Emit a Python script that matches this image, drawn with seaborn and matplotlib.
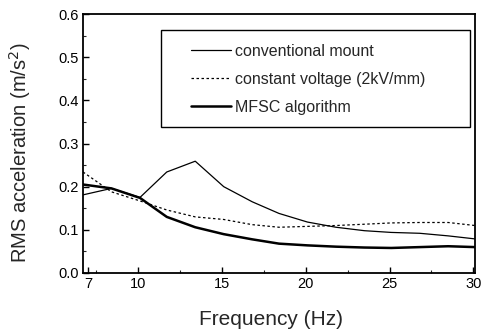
import pandas as pd
import matplotlib
matplotlib.use('Agg')
import matplotlib.pyplot as plt
import matplotlib.patches as mpatches
import seaborn as sb

freq = [6.7, 8.4, 10.1, 11.7, 13.4, 15.1, 16.8, 18.4, 20.1, 21.8, 23.5, 25.1, 26.8, 28.5, 30.1]
conventional = [0.181, 0.196, 0.175, 0.234, 0.259, 0.200, 0.165, 0.138, 0.118, 0.106,
                0.098, 0.094, 0.092, 0.086, 0.079]
const_voltage = [0.234, 0.188, 0.167, 0.146, 0.130, 0.124, 0.112, 0.106, 0.108, 0.110,
                 0.113, 0.116, 0.117, 0.117, 0.110]
mfsc = [0.205, 0.196, 0.174, 0.130, 0.106, 0.090, 0.078, 0.068, 0.064, 0.061,
        0.059, 0.058, 0.060, 0.062, 0.060]

labels = ['conventional mount', 'constant voltage (2kV/mm)', 'MFSC algorithm']
x_ticks = [7, 10, 15, 20, 25, 30]
y_ticks = [0.0, 0.1, 0.2, 0.3, 0.4, 0.5, 0.6]

if __name__ == '__main__':
    sb.set_style('ticks')
    plt.rcParams['font.family'] = ['Liberation Sans', 'DejaVu Sans']

    df = pd.DataFrame({'freq': freq, 'conv': conventional,
                       'volt': const_voltage, 'mfsc': mfsc})

    fig = plt.figure(figsize=(4.84, 3.31), dpi=100)
    ax = fig.add_axes([83 / 484, 1 - 273 / 331, 392 / 484, 259 / 331])

    sb.lineplot(data=df, x='freq', y='conv', ax=ax, color='black', lw=0.9,
                label=labels[0])
    sb.lineplot(data=df, x='freq', y='volt', ax=ax, color='black', lw=0.9,
                label=labels[1])
    ax.lines[-1].set_dashes([2, 2])
    sb.lineplot(data=df, x='freq', y='mfsc', ax=ax, color='black', lw=1.8,
                label=labels[2])

    ax.set_xlim(6.7, 30.1)
    ax.set_ylim(0, 0.6)
    ax.set_xticks(x_ticks)
    ax.set_xticks([7.5, 12.5, 17.5, 22.5, 27.5], minor=True)
    ax.set_yticks(y_ticks)
    ax.set_yticks([0.05, 0.15, 0.25, 0.35, 0.45, 0.55], minor=True)
    ax.set_xticklabels([str(t) for t in x_ticks])
    ax.set_yticklabels(['%.1f' % t for t in y_ticks])
    ax.tick_params(which='major', direction='in', length=4, width=1,
                   labelsize=10.5, pad=3, colors='black')
    ax.tick_params(which='minor', direction='in', length=2.5, width=0.8)

    for s in ax.spines.values():
        s.set_linewidth(1.3)
        s.set_color('black')

    ax.set_xlabel('Frequency (Hz)', fontsize=15)
    ax.set_ylabel('RMS acceleration (m/s$^2$)', fontsize=14.5)
    ax.xaxis.set_label_coords(0.48, -0.142)
    ax.yaxis.set_label_coords(-0.128, 0.463)

    leg = ax.legend(loc='upper left', bbox_to_anchor=(0.275, 0.884), frameon=False,
                    fontsize=11.5, handlelength=2.5, handletextpad=0.25,
                    labelspacing=0.8, borderpad=0, borderaxespad=0)
    ax.add_patch(mpatches.Rectangle((0.199, 0.564), 0.788, 0.374, transform=ax.transAxes,
                                    fill=False, ec='black', lw=1.0, zorder=5))

    fig.savefig('out.png', dpi=100, facecolor='white')
